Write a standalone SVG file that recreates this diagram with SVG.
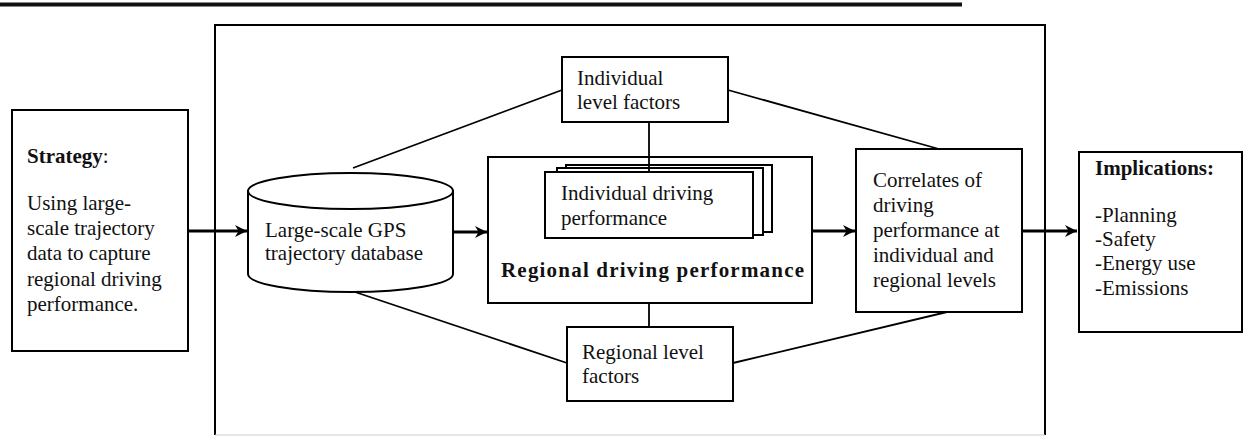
<svg xmlns="http://www.w3.org/2000/svg" width="1244" height="436" viewBox="0 0 1244 436">
<style>
.box{fill:#fff;stroke:#000;stroke-width:2}
.t{font-family:"Liberation Serif","Times New Roman","DejaVu Serif",serif;font-size:21px;fill:#111}
.b{font-weight:bold}
.ln{stroke:#000;stroke-width:1.8;fill:none}
.ar{stroke:#000;stroke-width:3;fill:none;marker-end:url(#ah)}
</style>
<defs>
<marker id="ah" viewBox="0 0 10 10" refX="10" refY="5" markerWidth="4" markerHeight="4" orient="auto" markerUnits="strokeWidth">
<path d="M0,0 L10,5 L0,10 L3,5 z" fill="#000"/>
</marker>
</defs>
<rect x="0" y="2.5" width="962" height="4" fill="#111"/>
<path id="frame" d="M215,435 L215,25 L1045,25 L1045,435" fill="none" stroke="#000" stroke-width="2"/>
<line x1="215" y1="435" x2="1045" y2="435" stroke="#ccc" stroke-width="1"/>
<g id="connectors">
<line class="ln" x1="562" y1="90" x2="353" y2="168"/>
<line class="ln" x1="728" y1="90" x2="939" y2="149"/>
<line class="ln" x1="649" y1="122" x2="649" y2="172"/>
<line class="ln" x1="355" y1="292" x2="567" y2="363"/>
<line class="ln" x1="733" y1="363" x2="947" y2="312"/>
<line class="ln" x1="649" y1="303" x2="649" y2="327"/>
<line class="ar" x1="188" y1="231" x2="247" y2="231"/>
<line class="ar" x1="453" y1="232" x2="487" y2="232"/>
<line class="ar" x1="812" y1="231" x2="855" y2="231"/>
<line class="ar" x1="1022" y1="231" x2="1077" y2="231"/>
</g>
<g id="strategy">
<rect class="box" x="12" y="110" width="176" height="241"/>
<text class="t" x="27" y="163"><tspan class="b">Strategy</tspan>:</text>
<text class="t" x="27" y="210">Using large-</text>
<text class="t" x="27" y="235">scale trajectory</text>
<text class="t" x="27" y="260">data to capture</text>
<text class="t" x="27" y="286">regional driving</text>
<text class="t" x="27" y="311">performance.</text>
</g>
<g id="database">
<path class="box" d="M248,191 L248,274 A102.5,18 0 0 0 453,274 L453,191 Z"/>
<ellipse class="box" cx="350.5" cy="191" rx="102.5" ry="18"/>
<text class="t" x="265" y="237">Large-scale GPS</text>
<text class="t" x="265" y="260">trajectory database</text>
</g>
<g id="individual-factors">
<rect class="box" x="562" y="57" width="166" height="65"/>
<text class="t" x="577" y="85">Individual</text>
<text class="t" x="577" y="109">level factors</text>
</g>
<g id="regional-performance">
<rect class="box" x="488" y="157" width="324" height="146"/>
<rect class="box" x="566" y="165" width="206" height="67"/>
<rect class="box" x="557" y="168" width="206" height="67"/>
<rect class="box" x="545" y="172" width="208" height="66"/>
<line class="ln" x1="649" y1="157" x2="649" y2="172"/>
<text class="t" x="561" y="200">Individual driving</text>
<text class="t" x="561" y="225">performance</text>
<text class="t b" x="501" y="277" font-size="24" textLength="303" lengthAdjust="spacing">Regional driving performance</text>
</g>
<g id="regional-factors">
<rect class="box" x="567" y="327" width="166" height="74"/>
<text class="t" x="582" y="359">Regional level</text>
<text class="t" x="582" y="383">factors</text>
</g>
<g id="correlates">
<rect class="box" x="856" y="149" width="166" height="163"/>
<text class="t" x="873" y="187">Correlates of</text>
<text class="t" x="873" y="212">driving</text>
<text class="t" x="873" y="237">performance at</text>
<text class="t" x="873" y="262">individual and</text>
<text class="t" x="873" y="287">regional levels</text>
</g>
<g id="implications">
<rect class="box" x="1079" y="152" width="163" height="180"/>
<text class="t b" x="1095" y="175">Implications:</text>
<text class="t" x="1095" y="222">-Planning</text>
<text class="t" x="1095" y="246">-Safety</text>
<text class="t" x="1095" y="270">-Energy use</text>
<text class="t" x="1095" y="295">-Emissions</text>
</g>
</svg>
